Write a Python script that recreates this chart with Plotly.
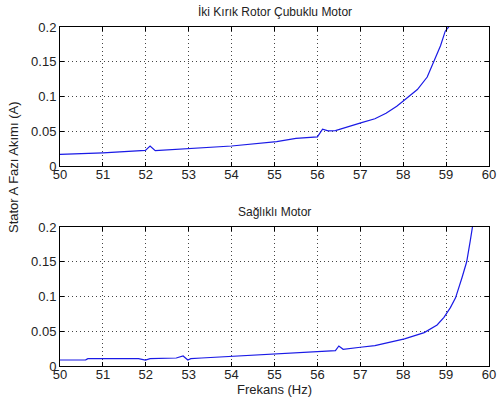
import plotly.graph_objects as go

# İki Kırık Rotor Çubuklu Motor (top)
freq_top = [50.0, 51.0, 51.99, 52.1, 52.22, 52.98, 54.0, 55.05, 55.5, 56.0, 56.12, 56.25, 56.42, 57.03, 57.34,
            57.6, 57.85, 58.03, 58.33, 58.56, 58.72, 58.87, 58.98, 59.06, 59.1]
amp_top = [0.0168, 0.019, 0.0225, 0.0288, 0.022, 0.0245, 0.0288, 0.035, 0.0398, 0.042, 0.053, 0.0505, 0.051,
           0.0625, 0.068, 0.076, 0.086, 0.095, 0.110, 0.128, 0.150, 0.173, 0.194, 0.2, 0.21]

# Sağlıklı Motor (bottom)
freq_bot = [50.0, 50.6, 50.65, 51.83, 51.99, 52.1, 52.71, 52.87, 52.98, 53.05, 53.3, 53.82, 54.59, 54.95,
            56.0, 56.42, 56.5, 56.6, 57.0, 57.34, 58.03, 58.49, 58.79, 58.95, 59.1, 59.22, 59.37, 59.48,
            59.56, 59.62, 59.64]
amp_bot = [0.0086, 0.0088, 0.0105, 0.0105, 0.0086, 0.0105, 0.0115, 0.0144, 0.0086, 0.0105, 0.0115, 0.0134,
           0.0163, 0.017, 0.0206, 0.022, 0.0288, 0.024, 0.0270, 0.0294, 0.039, 0.048, 0.059, 0.070, 0.084,
           0.098, 0.127, 0.150, 0.179, 0.2, 0.21]

x_ticks = [50, 51, 52, 53, 54, 55, 56, 57, 58, 59, 60]
y_ticks = [0, 0.05, 0.1, 0.15, 0.2]
y_labels = ["0", "0.05", "0.1", "0.15", "0.2"]

title_top = "İki Kırık Rotor Çubuklu Motor"
title_bot = "Sağlıklı Motor"
y_title = "Stator A Fazı Akımı (A)"
x_title = "Frekans (Hz)"

FONT = "Liberation Sans, Arial, sans-serif"
LINE = "#1a1ae6"
TXT = "#222"

fig = go.Figure()
fig.add_trace(go.Scatter(x=freq_top, y=amp_top, mode="lines", line=dict(color=LINE, width=1.2),
                         xaxis="x", yaxis="y", showlegend=False, hoverinfo="skip"))
fig.add_trace(go.Scatter(x=freq_bot, y=amp_bot, mode="lines", line=dict(color=LINE, width=1.2),
                         xaxis="x2", yaxis="y2", showlegend=False, hoverinfo="skip"))

axis_common = dict(showline=True, linecolor="black", linewidth=1, mirror="ticks",
                   ticks="inside", ticklen=4, tickcolor="black",
                   showgrid=True, gridcolor="#444", griddash="1px,3px", gridwidth=1,
                   zeroline=False, ticklabeloverflow="allow",
                   tickfont=dict(family=FONT, size=13, color=TXT))
x_common = dict(axis_common, ticklabelstandoff=-4)

H = 408
top_px = 27
bot_px = 42
ph = H - top_px - bot_px
top_dom = [(366 - 166) / ph, 1.0]
bot_dom = [0.0, (366 - 227) / ph]

fig.update_layout(
    width=502, height=408,
    margin=dict(l=60, r=6, t=top_px, b=bot_px),
    paper_bgcolor="white", plot_bgcolor="white",
    xaxis=dict(range=[50, 60], tickvals=x_ticks, domain=[0, 1], anchor="y", **x_common),
    yaxis=dict(range=[0, 0.2], tickvals=y_ticks, ticktext=y_labels, domain=top_dom, anchor="x", **axis_common),
    xaxis2=dict(range=[50, 60], tickvals=x_ticks, domain=[0, 1], anchor="y2",
                title=dict(text=x_title, font=dict(family=FONT, size=13, color=TXT), standoff=2),
                **x_common),
    yaxis2=dict(range=[0, 0.2], tickvals=y_ticks, ticktext=y_labels, domain=bot_dom, anchor="x2", **axis_common),
    annotations=[
        dict(text=title_top, xref="paper", yref="paper", x=0.5, y=1.0, yshift=6, xanchor="center",
             yanchor="bottom", showarrow=False, font=dict(family=FONT, size=12, color=TXT)),
        dict(text=title_bot, xref="paper", yref="paper", x=0.5, y=bot_dom[1], yshift=6, xanchor="center",
             yanchor="bottom", showarrow=False, font=dict(family=FONT, size=12, color=TXT)),
        dict(text=y_title, xref="paper", yref="paper", x=0, xshift=-47, y=(366 - 167) / ph,
             xanchor="center", yanchor="middle", textangle=-90, showarrow=False,
             font=dict(family=FONT, size=13, color=TXT)),
    ],
)

fig.write_html("out.html")
